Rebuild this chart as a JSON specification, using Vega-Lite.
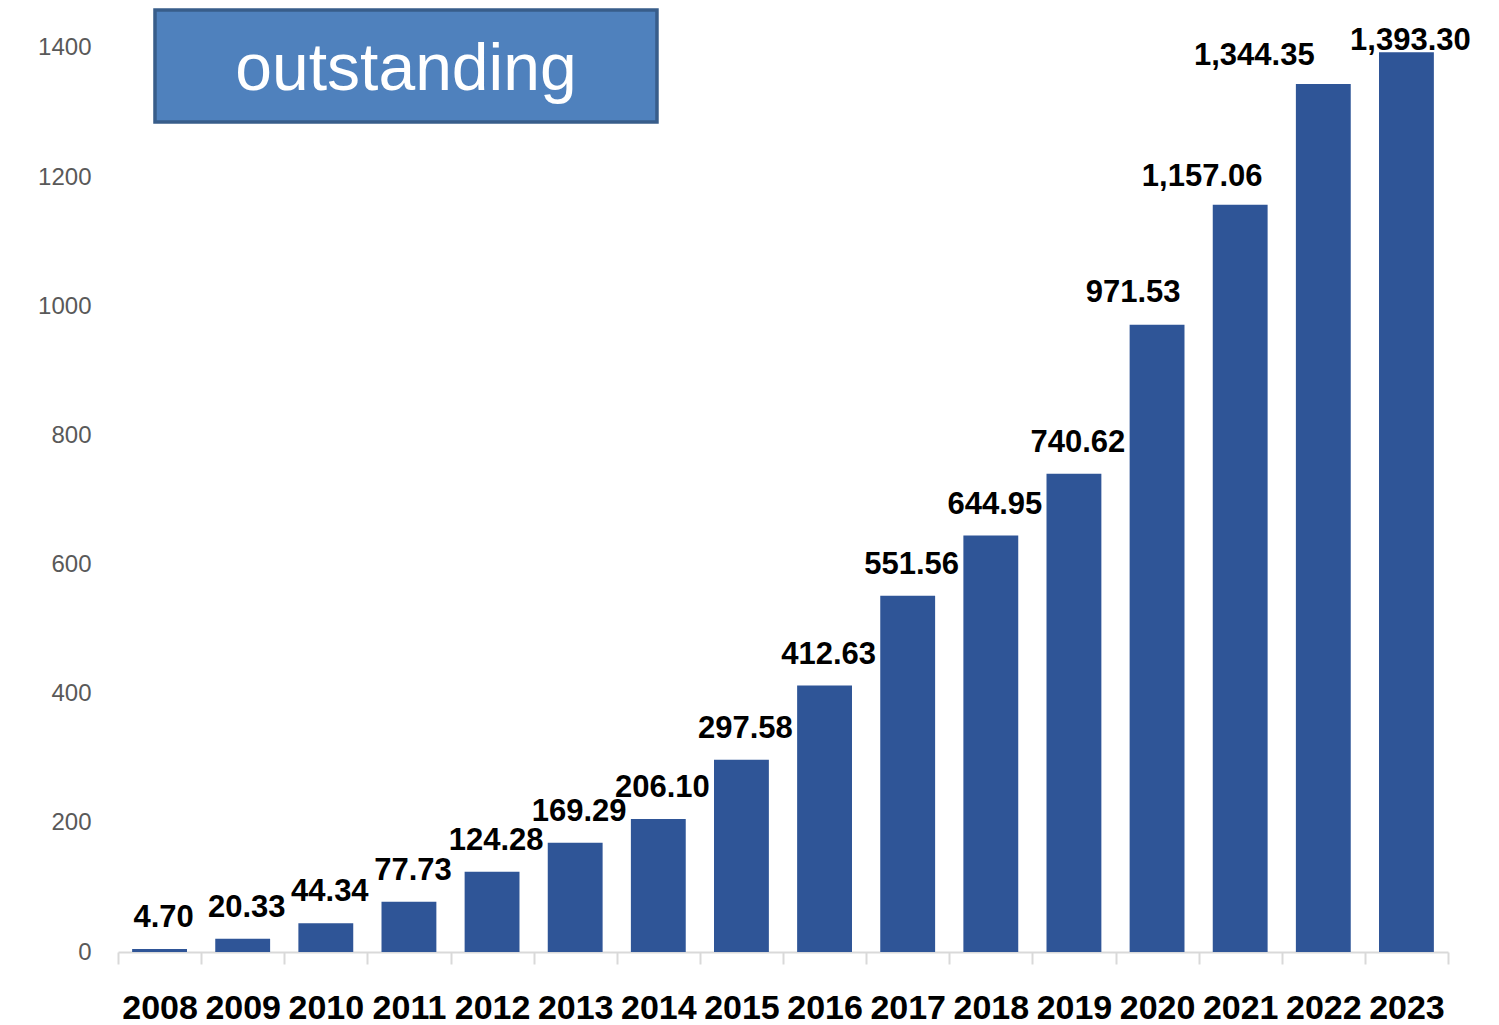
{
  "$schema": "https://vega.github.io/schema/vega-lite/v6.json",
  "width": 1330,
  "height": 952,
  "autosize": "none",
  "padding": {"left": 118, "top": 0, "right": 51, "bottom": 73},
  "background": "white",
  "config": {"view": {"stroke": null}},
  "datasets": {
    "bars": [
      {"year": "2008", "value": 4.70},
      {"year": "2009", "value": 20.33},
      {"year": "2010", "value": 44.34},
      {"year": "2011", "value": 77.73},
      {"year": "2012", "value": 124.28},
      {"year": "2013", "value": 169.29},
      {"year": "2014", "value": 206.10},
      {"year": "2015", "value": 297.58},
      {"year": "2016", "value": 412.63},
      {"year": "2017", "value": 551.56},
      {"year": "2018", "value": 644.95},
      {"year": "2019", "value": 740.62},
      {"year": "2020", "value": 971.53},
      {"year": "2021", "value": 1157.06},
      {"year": "2022", "value": 1344.35},
      {"year": "2023", "value": 1393.30}
    ],
    "note": [{"label": "outstanding"}]
  },
  "layer": [
    {
      "data": {"name": "bars"},
      "encoding": {
        "x": {
          "field": "year", "type": "nominal", "sort": null,
          "scale": {"paddingInner": 0, "paddingOuter": 0},
          "axis": {
            "title": null, "labelAngle": 0, "tickBand": "extent", "tickSize": 12,
            "tickColor": "#D9D9D9", "tickWidth": 2, "domainColor": "#D9D9D9", "domainWidth": 2,
            "labelFont": "Liberation Sans", "labelFontWeight": "bold", "labelFontSize": 34,
            "labelColor": "black", "labelPadding": 27, "grid": false
          }
        },
        "y": {
          "field": "value", "type": "quantitative", "title": null,
          "scale": {"domain": [0, 1474.3], "nice": false, "zero": true},
          "axis": {
            "values": [0, 200, 400, 600, 800, 1000, 1200, 1400], "format": "d",
            "domain": false, "ticks": false, "grid": false, "title": null,
            "labelFont": "Liberation Sans", "labelFontSize": 24, "labelColor": "#595959",
            "labelPadding": 27
          }
        },
        "text": {"field": "value", "type": "quantitative", "format": ",.2f"}
      },
      "layer": [
        {"mark": {"type": "bar", "color": "#2F5597", "width": {"band": 0.66}}},
        {
          "transform": [{"filter": "datum.year < '2020'"}],
          "mark": {"type": "text", "baseline": "alphabetic", "align": "center", "dy": -22, "dx": 4,
                   "font": "Liberation Sans", "fontWeight": "bold", "fontSize": 31, "color": "black"}
        },
        {
          "transform": [{"filter": "datum.year == '2020'"}],
          "mark": {"type": "text", "baseline": "alphabetic", "align": "center", "dy": -23, "dx": -24,
                   "font": "Liberation Sans", "fontWeight": "bold", "fontSize": 31, "color": "black"}
        },
        {
          "transform": [{"filter": "datum.year == '2021'"}],
          "mark": {"type": "text", "baseline": "alphabetic", "align": "center", "dy": -19, "dx": -38,
                   "font": "Liberation Sans", "fontWeight": "bold", "fontSize": 31, "color": "black"}
        },
        {
          "transform": [{"filter": "datum.year == '2022'"}],
          "mark": {"type": "text", "baseline": "alphabetic", "align": "center", "dy": -19, "dx": -69,
                   "font": "Liberation Sans", "fontWeight": "bold", "fontSize": 31, "color": "black"}
        },
        {
          "transform": [{"filter": "datum.year == '2023'"}],
          "mark": {"type": "text", "baseline": "alphabetic", "align": "center", "dy": -2, "dx": 4,
                   "font": "Liberation Sans", "fontWeight": "bold", "fontSize": 31, "color": "black"}
        }
      ]
    },
    {
      "data": {"name": "note"},
      "layer": [
        {
          "mark": {"type": "rect", "fill": "#4F81BD", "stroke": "#385D8A", "strokeWidth": 3.5},
          "encoding": {
            "x": {"datum": 0.445, "type": "quantitative", "scale": {"domain": [0, 16], "nice": false, "zero": true}, "axis": null},
            "x2": {"datum": 6.484},
            "y": {"datum": 1458.9, "type": "quantitative", "title": null},
            "y2": {"datum": 1285.4}
          }
        },
        {
          "mark": {"type": "text", "baseline": "alphabetic", "align": "center",
                   "font": "Liberation Sans", "fontSize": 66, "color": "white"},
          "encoding": {
            "x": {"datum": 3.4645, "type": "quantitative", "scale": {"domain": [0, 16], "nice": false, "zero": true}, "axis": null},
            "y": {"datum": 1335, "type": "quantitative", "title": null},
            "text": {"field": "label", "type": "nominal"}
          }
        }
      ]
    }
  ],
  "resolve": {"scale": {"x": "independent"}}
}
